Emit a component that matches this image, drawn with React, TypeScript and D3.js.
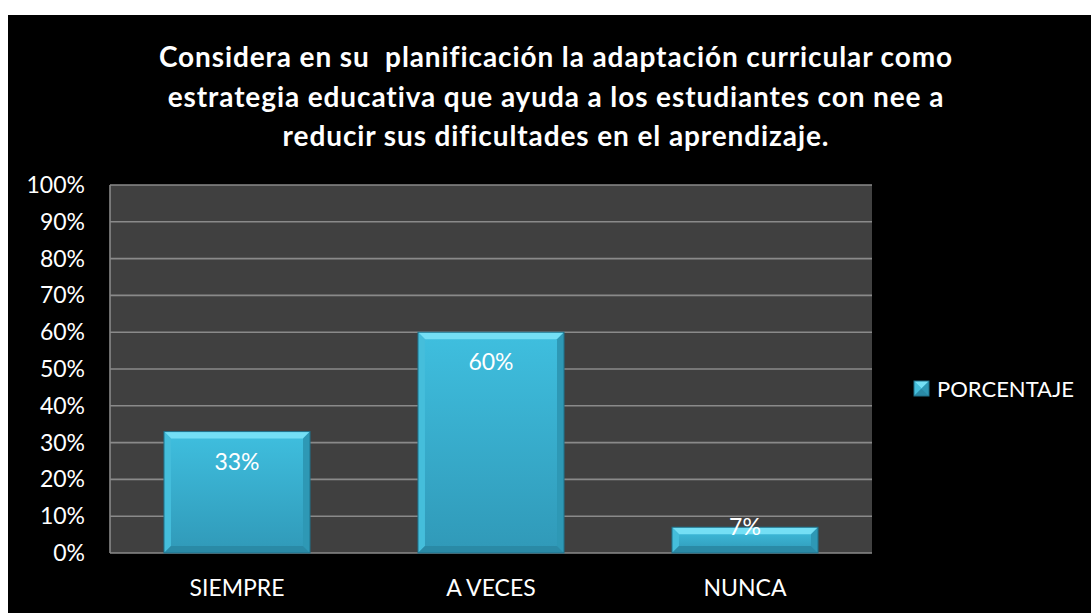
import React from "react";
import * as d3 from "d3";

const titleLines = [
  "Considera en su  planificación la adaptación curricular como",
  "estrategia educativa que ayuda a los estudiantes con nee a",
  "reducir sus dificultades en el aprendizaje.",
];
const categories = ["SIEMPRE", "A VECES", "NUNCA"];
const values = [0.33, 0.6, 0.07];
const valueLabels = ["33%", "60%", "7%"];
const yTicks = [0, 0.1, 0.2, 0.3, 0.4, 0.5, 0.6, 0.7, 0.8, 0.9, 1.0];
const seriesName = "PORCENTAJE";

const W = 1091;
const H = 613;
const FONT = "Lato, 'Open Sans', sans-serif";

function Bar({ x, y, w, h, id }: { x: number; y: number; w: number; h: number; id: string }) {
  const b = Math.min(7, h / 2);
  return (
    <g>
      <rect x={x} y={y} width={w} height={h} fill={`url(#${id})`} />
      <polygon points={`${x},${y} ${x + w},${y} ${x + w - b},${y + b} ${x + b},${y + b}`} fill="#74dff5" />
      <polygon points={`${x},${y} ${x + b},${y + b} ${x + b},${y + h - b} ${x},${y + h}`} fill="#45bedb" />
      <polygon points={`${x + w},${y} ${x + w - b},${y + b} ${x + w - b},${y + h - b} ${x + w},${y + h}`} fill="#2e98b5" />
      <polygon points={`${x},${y + h} ${x + b},${y + h - b} ${x + w - b},${y + h - b} ${x + w},${y + h}`} fill="#2a8aa6" />
      <rect x={x} y={y} width={w} height={h} fill="none" stroke="#1f6f88" strokeWidth={1} />
    </g>
  );
}

export default function App() {
  const plotLeft = 110;
  const plotRight = 872;
  const plotTop = 185;
  const plotBottom = 553;

  const x = d3.scaleBand<string>().domain(categories).range([plotLeft, plotRight]).paddingInner(0.425).paddingOuter(0.2125);
  const y = d3.scaleLinear().domain([0, 1]).range([plotBottom, plotTop]);

  return (
    <svg
      width={W}
      height={H}
      style={{ position: "absolute", left: 0, top: 0, background: "#ffffff" }}
      fontFamily={FONT}
    >
      <defs>
        <linearGradient id="barGrad" x1="0" y1="0" x2="0" y2="1">
          <stop offset="0" stopColor="#3fbfdf" />
          <stop offset="1" stopColor="#3099b8" />
        </linearGradient>
      </defs>
      <rect x={8} y={15} width={W - 8} height={H - 15} fill="#000000" />

      {titleLines.map((t, i) => (
        <text
          key={i}
          x={556}
          y={67 + i * 39.5}
          textAnchor="middle"
          fill="#ffffff"
          fontWeight="bold"
          fontSize={28}
          letterSpacing={0.9}
          style={{ whiteSpace: "pre" }}
        >
          {t}
        </text>
      ))}

      <rect x={plotLeft} y={plotTop} width={plotRight - plotLeft} height={plotBottom - plotTop} fill="#404040" />
      {yTicks.map((t) => (
        <line key={t} x1={plotLeft} x2={plotRight} y1={y(t)} y2={y(t)} stroke="#8a8a8a" strokeWidth={1.6} />
      ))}
      <line x1={plotLeft} x2={plotLeft} y1={plotTop} y2={plotBottom} stroke="#8a8a8a" strokeWidth={1.6} />

      {yTicks.map((t) => (
        <text key={t} x={85} y={y(t)} dy="0.35em" textAnchor="end" fill="#ffffff" fontSize={23}>
          {d3.format(".0%")(t)}
        </text>
      ))}

      {categories.map((c, i) => {
        const bx = x(c)!;
        const bw = x.bandwidth();
        const by = y(values[i]);
        const bh = plotBottom - by;
        const ly = bh > 60 ? by + 30 : by;
        return (
          <g key={c}>
            <Bar x={bx} y={by} w={bw} h={bh} id="barGrad" />
            <text x={bx + bw / 2} y={ly} dy="0.35em" textAnchor="middle" fill="#ffffff" fontSize={23}>
              {valueLabels[i]}
            </text>
            <text x={bx + bw / 2} y={588} dy="0.35em" textAnchor="middle" fill="#ffffff" fontSize={23}>
              {c}
            </text>
          </g>
        );
      })}

      <Bar x={914} y={381} w={15} h={15} id="barGrad" />
      <text x={937} y={389} dy="0.35em" fill="#ffffff" fontSize={22}>
        {seriesName}
      </text>
    </svg>
  );
}
